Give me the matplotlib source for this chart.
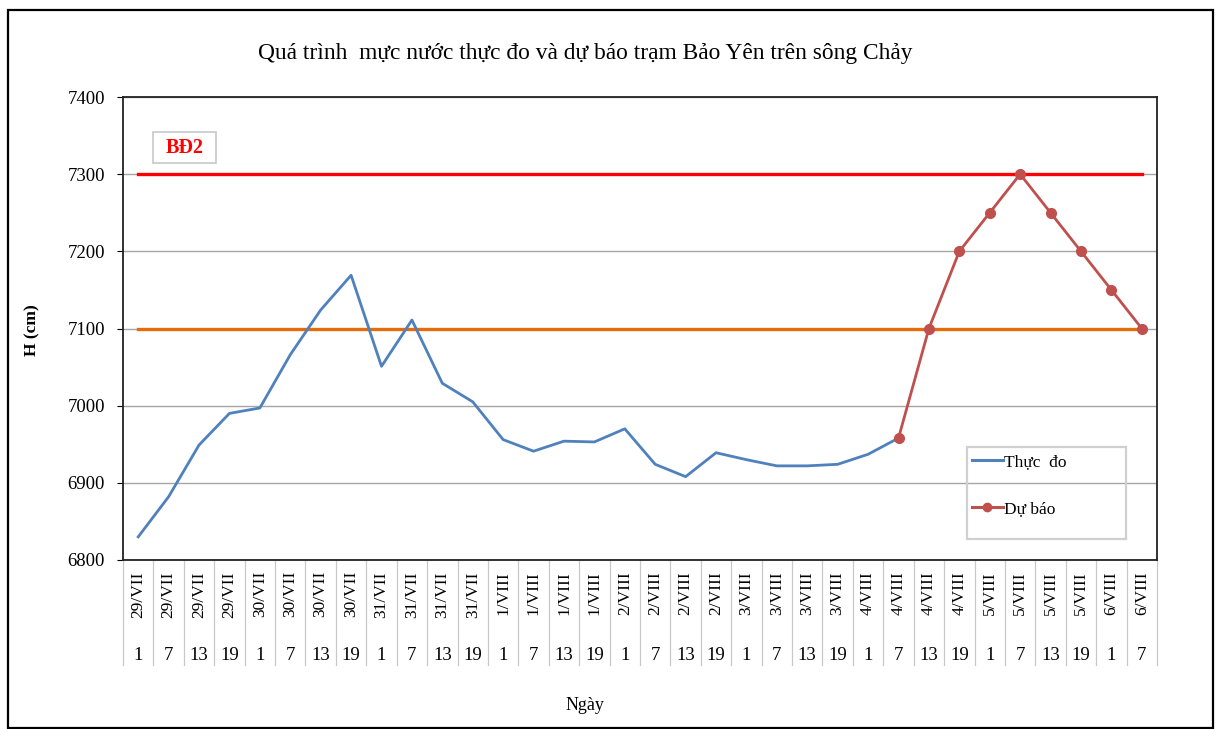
import matplotlib
matplotlib.use("Agg")
import matplotlib.pyplot as plt
from matplotlib.patches import Rectangle
from matplotlib.lines import Line2D
import matplotlib.transforms as mtransforms

plt.rcParams['font.family'] = ['Liberation Serif', 'DejaVu Serif']

# ---------------- data ----------------
dates = (["29/VII"] * 4 + ["30/VII"] * 4 + ["31/VII"] * 4 + ["1/VIII"] * 4 +
         ["2/VIII"] * 4 + ["3/VIII"] * 4 + ["4/VIII"] * 4 + ["5/VIII"] * 4 +
         ["6/VIII"] * 2)
hours = ["1", "7", "13", "19"] * 8 + ["1", "7"]

observed = [6830, 6882, 6949, 6990, 6997, 7066, 7124, 7169, 7051, 7111,
            7029, 7005, 6956, 6941, 6954, 6953, 6970, 6924, 6908, 6939,
            6930, 6922, 6922, 6924, 6937, 6958]
forecast_start = 25
forecast = [6958, 7100, 7200, 7250, 7300, 7250, 7200, 7150, 7100]

level_bd2 = 7300
level_orange = 7100

title = "Quá trình  mực nước thực đo và dự báo trạm Bảo Yên trên sông Chảy"
y_label = "H (cm)"
x_label = "Ngày"
legend_labels = ["Thực  đo", "Dự báo"]
bd2_label = "BĐ2"
y_ticks = [6800, 6900, 7000, 7100, 7200, 7300, 7400]

# ---------------- figure ----------------
W, H = 1221, 729
fig = plt.figure(figsize=(W / 100, H / 100), dpi=100)

# outer frame
fig.patches.append(Rectangle((8 / W, 1 - 728 / H), 1205 / W, 718 / H,
                             transform=fig.transFigure, fill=False,
                             edgecolor='black', linewidth=1.6))

AX_L, AX_R, AX_T, AX_B = 123, 1157, 97, 560
ax = fig.add_axes([AX_L / W, 1 - AX_B / H, (AX_R - AX_L) / W, (AX_B - AX_T) / H])


def ax_x(px):
    return (px - AX_L) / (AX_R - AX_L)


def ax_y(py):
    return (AX_B - py) / (AX_B - AX_T)


n = len(dates)
x_all = list(range(n))
x_obs = list(range(len(observed)))
x_fc = list(range(forecast_start, forecast_start + len(forecast)))

ax.set_xlim(-0.5, n - 0.5)
ax.set_ylim(6800, 7400)
ax.set_yticks(y_ticks)
ax.set_yticklabels([str(v) for v in y_ticks], fontsize=13.5)
ax.tick_params(axis='y', length=4, width=0.8, pad=9, colors='black')
ax.set_xticks([])
ax.grid(axis='y', color='#A6A6A6', linewidth=1.0)
ax.set_axisbelow(True)
for s in ax.spines.values():
    s.set_color('#222222')
    s.set_linewidth(1.3)

# threshold lines
ax.plot([x_all[0], x_all[-1]], [level_bd2] * 2, color='#FF0000', linewidth=2.4, zorder=3)
ax.plot([x_all[0], x_all[-1]], [level_orange] * 2, color='#E46C0A', linewidth=2.4, zorder=3)

# series
ax.plot(x_obs, observed, color='#4F81BD', linewidth=2.0, zorder=4)
ax.plot(x_fc, forecast, color='#C0504D', linewidth=2.0, marker='o',
        markersize=7, zorder=5)

# BĐ2 label with box
ax.add_patch(Rectangle((ax_x(153), ax_y(163)), ax_x(216) - ax_x(153),
                       ax_y(132) - ax_y(163), transform=ax.transAxes,
                       facecolor='white', edgecolor='#C8C8C8', linewidth=1.2,
                       zorder=6))
ax.text(ax_x(184.5), ax_y(148), bd2_label, transform=ax.transAxes, color='#FF0000',
        fontsize=14.5, fontweight='bold', ha='center', va='center', zorder=7)

# legend (manual transparent frame + frameless legend)
ax.add_patch(Rectangle((ax_x(967), ax_y(539)), ax_x(1126) - ax_x(967),
                       ax_y(447) - ax_y(539), transform=ax.transAxes,
                       facecolor='none', edgecolor='#D0D0D0', linewidth=1.6,
                       zorder=6))
handles = [Line2D([0], [0], color='#4F81BD', linewidth=2.2),
           Line2D([0], [0], color='#C0504D', linewidth=2.2, marker='o', markersize=6)]
leg = ax.legend(handles, legend_labels, loc='upper left',
                bbox_to_anchor=(ax_x(967), ax_y(449)),
                fontsize=12.5, frameon=False,
                handlelength=1.75, handletextpad=0.1, labelspacing=1.75,
                borderpad=0.3, borderaxespad=0)
leg.set_zorder(8)

# category table below axis
trans = mtransforms.blended_transform_factory(ax.transData, ax.transAxes)
sep_bottom = ax_y(665)
for i in range(n + 1):
    ax.plot([i - 0.5, i - 0.5], [0, sep_bottom], transform=trans,
            color='#C8C8C8', linewidth=0.9, clip_on=False, zorder=1)
date_y = ax_y(571)
hour_y = ax_y(655)
for i in range(n):
    ax.text(i, date_y, dates[i], transform=trans, rotation=90, ha='center',
            va='top', fontsize=12.5)
    ax.text(i, hour_y, hours[i], transform=trans, ha='center', va='center',
            fontsize=13.5)

# titles and labels
fig.text(585 / W, 1 - 54 / H, title, ha='center', va='center', fontsize=16.8)
fig.text(32 / W, 1 - 330 / H, y_label, rotation=90, ha='center', va='center',
         fontsize=12.5, fontweight='bold')
fig.text(585 / W, 1 - 706 / H, x_label, ha='center', va='center', fontsize=13)

fig.savefig("out.png", dpi=100)
